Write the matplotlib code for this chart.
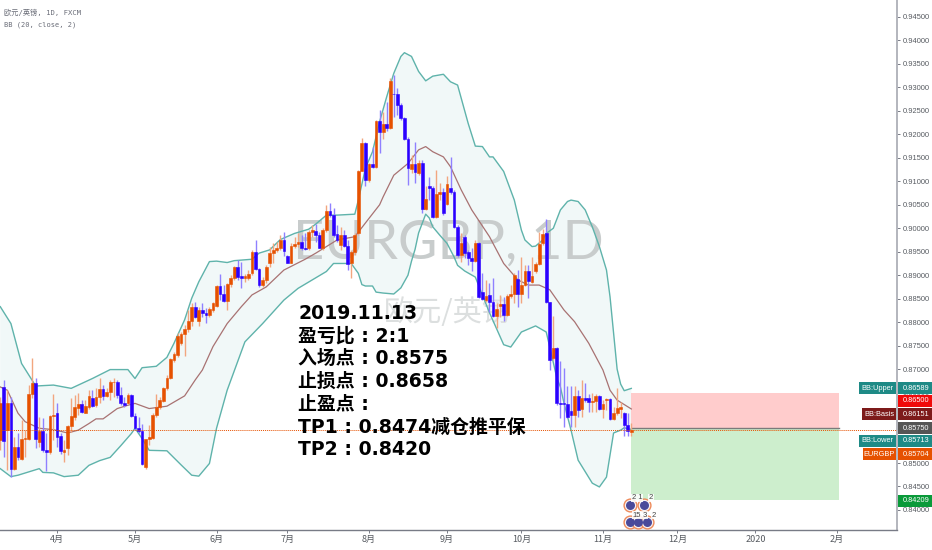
#!/usr/bin/env python3
"""EURGBP daily candles with Bollinger bands and a short position box."""

import matplotlib
matplotlib.use("Agg")
import matplotlib.pyplot as plt
import numpy as np
from matplotlib.patches import Rectangle

W, H = 932, 550
AXIS_X, AXIS_Y = 897, 530

UP = "#e65100"
DOWN = "#2b00ff"
UP_WICK = "#f2a67f"
DOWN_WICK = "#8f80ff"
BAND = "#5fb3ab"
BASIS = "#a87272"
GREY = "#565a60"
SANS = "Liberation Sans"
CJK = ["DejaVu Sans", "Noto Sans CJK SC"]

BAR_START = -16  # bar 0 is 1 April 2019
OPEN = [
    .8549, .8661, .8570, .8627, .8487, .8535, .8508, .8551, .8551, .8647,
    .8671, .8544, .8569, .8528, .8523, .8601, .8607, .8557, .8524, .8531,
    .8579, .8598, .8618, .8625, .8607, .8620, .8639, .8623, .8641, .8657,
    .8643, .8652, .8672, .8673, .8645, .8628, .8627, .8645, .8601, .8575,
    .8568, .8492, .8551, .8554, .8602, .8620, .8633, .8659, .8680, .8719,
    .8730, .8755, .8775, .8785, .8803, .8833, .8803, .8826, .8819, .8815,
    .8826, .8834, .8877, .8860, .8845, .8881, .8895, .8917, .8898, .8895,
    .8895, .8904, .8950, .8913, .8879, .8890, .8925, .8947, .8954, .8957,
    .8974, .8940, .8927, .8963, .8966, .8970, .8957, .8957, .8991, .8995,
    .8986, .8959, .8996, .9037, .9028, .8987, .8964, .8986, .8963, .8925,
    .8949, .8989, .9122, .9181, .9103, .9136, .9131, .9228, .9204, .9222,
    .9214, .9287, .9287, .9263, .9235, .9190, .9126, .9137, .9117, .9140,
    .9041, .9089, .9085, .9023, .9072, .9078, .9052, .9085, .9078, .9003,
    .8943, .8982, .8949, .8936, .8930, .8969, .8865, .8847, .8858, .8842,
    .8814, .8835, .8839, .8815, .8856, .8860, .8891, .8861, .8880, .8908,
    .8886, .8908, .8924, .8968, .8989, .8842, .8723, .8744, .8627, .8627,
    .8625, .8611, .8602, .8643, .8614, .8638, .8639, .8629, .8633, .8643,
    .8614, .8634, .8636, .8593, .8606, .8616, .8606, .8581, .8567,
]
HIGH = [
    .8641, .8677, .8655, .8641, .8556, .8563, .8591, .8570, .8666, .8723,
    .8682, .8599, .8595, .8563, .8602, .8648, .8627, .8563, .8549, .8581,
    .8638, .8645, .8650, .8634, .8634, .8655, .8655, .8659, .8682, .8666,
    .8659, .8677, .8680, .8677, .8661, .8641, .8650, .8648, .8606, .8599,
    .8584, .8552, .8581, .8606, .8648, .8641, .8661, .8687, .8723, .8737,
    .8776, .8780, .8794, .8826, .8840, .8844, .8833, .8840, .8830, .8833,
    .8844, .8879, .8903, .8879, .8883, .8900, .8920, .8932, .8929, .8903,
    .8911, .8954, .8976, .8915, .8897, .8922, .8961, .8968, .8971, .8986,
    .8993, .8943, .8968, .8982, .8989, .8986, .8989, .8996, .9007, .9010,
    .8993, .9000, .9050, .9053, .9043, .9007, .9003, .8996, .8975, .8954,
    .8989, .9124, .9192, .9184, .9138, .9174, .9231, .9252, .9248, .9270,
    .9319, .9326, .9298, .9266, .9238, .9195, .9156, .9184, .9145, .9145,
    .9089, .9110, .9089, .9124, .9096, .9085, .9111, .9151, .9081, .9007,
    .8989, .8986, .8954, .8957, .8975, .8971, .8904, .8890, .8883, .8893,
    .8840, .8858, .8854, .8861, .8879, .8904, .8911, .8939, .8922, .8922,
    .8939, .8929, .8993, .8999, .9019, .8844, .8813, .8748, .8717, .8703,
    .8663, .8663, .8663, .8656, .8677, .8671, .8648, .8650, .8647, .8645,
    .8634, .8638, .8638, .8620, .8659, .8631, .8609, .8606, .8585,
]
LOW = [
    .8527, .8513, .8485, .8471, .8485, .8506, .8506, .8513, .8549, .8638,
    .8531, .8535, .8524, .8483, .8520, .8549, .8535, .8520, .8503, .8517,
    .8567, .8591, .8602, .8606, .8606, .8616, .8620, .8620, .8627, .8634,
    .8641, .8634, .8641, .8638, .8623, .8620, .8626, .8599, .8570, .8563,
    .8495, .8488, .8538, .8552, .8599, .8616, .8630, .8655, .8678, .8716,
    .8726, .8751, .8727, .8780, .8792, .8808, .8792, .8812, .8799, .8812,
    .8822, .8833, .8847, .8844, .8826, .8874, .8890, .8890, .8873, .8886,
    .8890, .8900, .8911, .8874, .8874, .8883, .8918, .8925, .8950, .8954,
    .8940, .8925, .8925, .8957, .8961, .8954, .8954, .8954, .8982, .8971,
    .8957, .8954, .8993, .9025, .8982, .8971, .8954, .8961, .8911, .8893,
    .8943, .8985, .9121, .9091, .9099, .9128, .9128, .9160, .9190, .9208,
    .9211, .9238, .9241, .9231, .9188, .9092, .9117, .9096, .9113, .9032,
    .9039, .9060, .9021, .9021, .9060, .9028, .9050, .9074, .9000, .8939,
    .8929, .8936, .8922, .8908, .8929, .8851, .8847, .8844, .8822, .8812,
    .8787, .8812, .8803, .8813, .8851, .8840, .8833, .8840, .8876, .8851,
    .8883, .8904, .8922, .8964, .8840, .8698, .8719, .8623, .8595, .8577,
    .8595, .8577, .8577, .8599, .8599, .8631, .8609, .8609, .8609, .8613,
    .8595, .8613, .8592, .8592, .8602, .8595, .8558, .8558, .8558,
]
CLOSE = [
    .8627, .8547, .8627, .8487, .8535, .8512, .8551, .8554, .8648, .8671,
    .8551, .8569, .8528, .8523, .8601, .8602, .8556, .8526, .8527, .8579,
    .8601, .8620, .8625, .8608, .8621, .8643, .8621, .8641, .8657, .8643,
    .8652, .8672, .8673, .8645, .8627, .8623, .8645, .8601, .8575, .8568,
    .8498, .8551, .8556, .8602, .8620, .8634, .8659, .8682, .8721, .8732,
    .8770, .8775, .8785, .8803, .8833, .8812, .8826, .8819, .8815, .8827,
    .8840, .8877, .8860, .8845, .8881, .8895, .8917, .8897, .8895, .8898,
    .8903, .8950, .8913, .8879, .8890, .8918, .8947, .8954, .8959, .8974,
    .8952, .8927, .8963, .8966, .8970, .8957, .8956, .8991, .8996, .8986,
    .8959, .8996, .9037, .9028, .8986, .8974, .8986, .8963, .8924, .8949,
    .8986, .9122, .9181, .9103, .9136, .9130, .9228, .9204, .9222, .9213,
    .9314, .9285, .9263, .9234, .9190, .9128, .9137, .9119, .9140, .9041,
    .9062, .9085, .9023, .9072, .9078, .9033, .9094, .9078, .9003, .8943,
    .8969, .8947, .8936, .8930, .8969, .8854, .8849, .8856, .8842, .8814,
    .8828, .8839, .8815, .8856, .8860, .8901, .8861, .8880, .8908, .8888,
    .8898, .8924, .8966, .8987, .8842, .8719, .8744, .8627, .8626, .8625,
    .8597, .8602, .8643, .8613, .8638, .8634, .8629, .8633, .8643, .8614,
    .8626, .8636, .8594, .8607, .8618, .8620, .8581, .8569, .85704,
]

UPPER_BAR = [-16, -13, -10, -6, -1, 4, 10, 15, 20, 22, 24, 28, 31, 33, 36, 38, 40, 43, 45, 48, 50,
             55, 57, 60, 63, 67, 71, 73, 76, 79, 84, 85, 87, 89, 91, 93, 95, 97, 98, 100, 102, 104,
             106, 109, 111, 113, 116, 118, 120, 122, 123, 126, 129, 131, 132, 134, 135, 137, 138,
             140, 142, 144, 145, 147, 149, 151, 153, 155, 156, 158, 159, 160, 162]
UPPER = [.8833, .8797, .8712, .8664, .8666, .8659, .8680, .8699, .8699, .8680, .8703, .8706, .8725,
         .8755, .8805, .8851, .8886, .8929, .8930, .8927, .8931, .8934, .8947, .8954, .8976, .8989,
         .8998, .9009, .9028, .9028, .9030, .9060, .9128, .9163, .9227, .9280, .9330, .9366, .9374,
         .9366, .9334, .9314, .9324, .9328, .9312, .9305, .9223, .9175, .9174, .9152, .9152, .9121,
         .9060, .8996, .8975, .8961, .8962, .8975, .8989, .9000, .9039, .9057, .9060, .9057, .9039,
         .9003, .8961, .8911, .8854, .8700, .8668, .8654, .86589]

LOWER_BAR = [-16, -13, -11, -5, -4, -1, 2, 6, 9, 12, 15, 18, 21, 22, 24, 26, 31, 35, 38, 40, 43, 45,
             48, 53, 58, 61, 64, 68, 72, 76, 78, 83, 85, 86, 87, 89, 90, 92, 95, 97, 99, 100, 101,
             102, 104, 105, 106, 108, 110, 112, 113, 115, 118, 122, 126, 128, 131, 135, 138, 139,
             141, 142, 143, 145, 147, 151, 153, 155, 157, 159, 160, 162]
LOWER = [.8488, .8471, .8474, .8488, .8480, .8479, .8471, .8474, .8495, .8505, .8512, .8537, .8563,
         .8574, .8552, .8527, .8526, .8496, .8474, .8472, .8499, .8574, .8655, .8758, .8797, .8822,
         .8847, .8872, .8890, .8908, .8925, .8925, .8904, .8880, .8877, .8877, .8864, .8862, .8860,
         .8873, .8900, .8930, .8955, .8990, .9030, .9022, .9003, .8985, .8968, .8939, .8921, .8909,
         .8896, .8820, .8752, .8747, .8779, .8792, .8779, .8747, .8681, .8662, .8628, .8570, .8506,
         .8457, .8449, .8470, .8564, .8570, .8575, .85713]

BASIS_BAR = [-16, -14, -11, -9, -5, -1, 3, 6, 9, 11, 13, 17, 20, 22, 26, 31, 36, 39, 41, 44, 48, 52,
             55, 59, 64, 70, 73, 79, 84, 88, 91, 92, 95, 99, 102, 104, 106, 109, 111, 114, 117, 122,
             126, 130, 133, 136, 139, 143, 146, 150, 154, 156, 158, 162]
BASIS_VAL = [.8662, .8655, .8606, .8588, .8574, .8571, .8564, .8570, .8584, .8594, .8594, .8616,
             .8623, .8627, .8616, .8621, .8643, .8677, .8698, .8748, .8797, .8833, .8858, .8875,
             .8911, .8934, .8947, .8975, .8982, .9021, .9050, .9067, .9113, .9138, .9167, .9174,
             .9163, .9152, .9131, .9082, .9039, .8982, .8925, .8890, .8879, .8879, .8869, .8826,
             .8801, .8755, .8698, .8655, .8634, .86151]

MONTH_BARS = [0, 22, 45, 65, 88, 110, 131, 154, 175, 197, 220]
MONTH_LABELS = ["4月", "5月", "6月", "7月", "8月", "9月", "10月", "11月", "12月", "2020", "2月"]
PRICE_TICKS = [.84, .845, .85, .855, .86, .865, .87, .875, .88, .885, .89, .895,
               .90, .905, .91, .915, .92, .925, .93, .935, .94, .945]

POSITION_START, POSITION_END = 162, 220.6
ENTRY, STOP, TARGET = 0.8575, 0.8650, 0.84209
LAST_PRICE = 0.85704

EVENT_BARS = [161.6, 165.6, 161.6, 163.9, 166.4]
EVENT_PRICES = [0.8411, 0.8411, 0.8374, 0.8374, 0.8374]
EVENT_LABELS = ["2 1", "2", "15", "3", "2"]

NOTE_LINES = [
    "2019.11.13",
    "盈亏比 : 2:1",
    "入场点 : 0.8575",
    "止损点 : 0.8658",
    "止盈点 :",
    "TP1 : 0.8474减仓推平保",
    "TP2 : 0.8420",
]

# label text, price text, colour, tag centre in pixels, left edge of the label part
TAGS = [
    ("BB:Upper", "0.86589", "#1e8a86", 388, 859),
    (None, "0.86500", "#f00a0a", 401, None),
    ("BB:Basis", "0.86151", "#7d1a1a", 414, 862),
    (None, "0.85750", "#555555", 428, None),
    ("BB:Lower", "0.85713", "#1e8a86", 441, 859),
    ("EURGBP", "0.85704", "#e65100", 454, 863),
    (None, "0.84209", "#0a9a3a", 501, None),
]


def px_rect(fig, x0, y0, x1, y1, color):
    fig.add_artist(Rectangle((x0 / W, 1 - y1 / H), (x1 - x0) / W, (y1 - y0) / H,
                             transform=fig.transFigure, color=color, lw=0, zorder=2))


def px_text(fig, x, y, text, **kwargs):
    fig.text(x / W, 1 - y / H, text, **kwargs)


def draw_candles(ax):
    bars = np.arange(BAR_START, BAR_START + len(OPEN))
    opens, closes = np.array(OPEN), np.array(CLOSE)
    rising = closes >= opens
    colors = np.where(rising, UP, DOWN)
    wicks = np.where(rising, UP_WICK, DOWN_WICK)
    ax.vlines(bars, LOW, HIGH, colors=wicks, linewidth=1.0, zorder=3)
    ax.bar(bars, np.abs(closes - opens), 0.78, np.minimum(opens, closes), color=colors,
           edgecolor=colors, linewidth=0.4, zorder=4)


def main():
    fig = plt.figure(figsize=(W / 100, H / 100), dpi=100)
    ax = fig.add_axes([0, 1 - AXIS_Y / H, AXIS_X / W, AXIS_Y / H])
    ax.set_xlim(-16.08, 236.95)
    ax.set_ylim(0.83573, 0.94862)

    outline_x = UPPER_BAR + LOWER_BAR[::-1]
    outline_y = UPPER + LOWER[::-1]
    ax.fill(outline_x, outline_y, color="#f1f8f8", lw=0, zorder=1)

    ax.text(0.4994, 0.5415, "EURGBP, 1D", transform=ax.transAxes, ha="center", va="center",
            family="Lato", fontsize=39, color="#c8cccc", zorder=1.2)
    ax.text(0.4994, 0.4094, "欧元/英镑", transform=ax.transAxes, ha="center", va="center",
            family="Noto Sans CJK SC", fontsize=21, color="#dcdfdf", zorder=1.2)

    ax.plot(UPPER_BAR, UPPER, color=BAND, lw=1.0, zorder=2)
    ax.plot(LOWER_BAR, LOWER, color=BAND, lw=1.0, zorder=2)
    ax.plot(BASIS_BAR, BASIS_VAL, color=BASIS, lw=0.9, zorder=2)

    ax.fill_between([POSITION_START, POSITION_END], ENTRY, STOP, color="#ffcccc", lw=0, zorder=1.5)
    ax.fill_between([POSITION_START, POSITION_END], TARGET, ENTRY, color="#cdeecd", lw=0, zorder=1.5)
    ax.plot([POSITION_START, POSITION_END], [ENTRY, ENTRY], color="#7b7b7b", lw=1.0, zorder=2.5)

    draw_candles(ax)
    ax.axhline(LAST_PRICE, color=UP, lw=0.7, ls=(0, (1, 1)), zorder=5)

    ax.scatter(EVENT_BARS, EVENT_PRICES, s=85, facecolor="#f6f3f6", edgecolor="#ee8a5a",
               linewidth=1.0, zorder=6)
    ax.scatter(EVENT_BARS, EVENT_PRICES, s=42, color="#4a4a9a", lw=0, zorder=7)
    for bar, price, label in zip(EVENT_BARS, EVENT_PRICES, EVENT_LABELS):
        ax.annotate(label, (bar, price), xytext=(5, 5), textcoords="offset points", fontsize=5.5,
                    color="#444444", zorder=8, family=SANS, ha="center", va="center",
                    bbox=dict(fc="white", ec="none", pad=0.4, alpha=0.85))

    for side in ("top", "left"):
        ax.spines[side].set_visible(False)
    ax.spines["right"].set_color("#b3b5bd")
    ax.spines["right"].set_linewidth(1.4)
    ax.spines["bottom"].set_color("#787b86")
    ax.spines["bottom"].set_linewidth(1.0)

    ax.set_xticks(MONTH_BARS, MONTH_LABELS, family="Noto Sans CJK SC", fontsize=6.5, color=GREY)
    ax.yaxis.tick_right()
    ax.set_yticks(PRICE_TICKS, [f"{p:.5f}" for p in PRICE_TICKS], family=SANS, fontsize=5.4, color=GREY)
    ax.tick_params(axis="x", length=2, width=0.7, color="#787b86", pad=1.5)
    ax.tick_params(axis="y", length=2.5, width=0.7, color="#787b86", pad=1.5)

    mono = ["DejaVu Sans Mono", "Noto Sans CJK SC"]
    px_text(fig, 4, 12, "欧元/英镑, 1D, FXCM", family=mono, fontsize=5.2, color="#6a6d78", va="center")
    px_text(fig, 4, 25, "BB (20, close, 2)", family=mono, fontsize=5.0, color="#6a6d78", va="center")

    for k, line in enumerate(NOTE_LINES):
        px_text(fig, 298, 319 + 22.7 * k, line, family=CJK, weight="bold", fontsize=13.6,
                color="black", va="baseline")

    for label, price, color, y, left in TAGS:
        px_rect(fig, AXIS_X + 1, y - 6.3, W, y + 6.3, color)
        px_text(fig, 903, y, price, family=SANS, fontsize=5.3, color="white", va="center")
        if label:
            px_rect(fig, left, y - 6.3, AXIS_X - 1, y + 6.3, color)
            px_text(fig, (left + AXIS_X - 1) / 2, y, label, family=SANS, fontsize=5.3,
                    color="white", va="center", ha="center")

    fig.savefig("out.png", dpi=100)
    plt.close(fig)


if __name__ == "__main__":
    main()
